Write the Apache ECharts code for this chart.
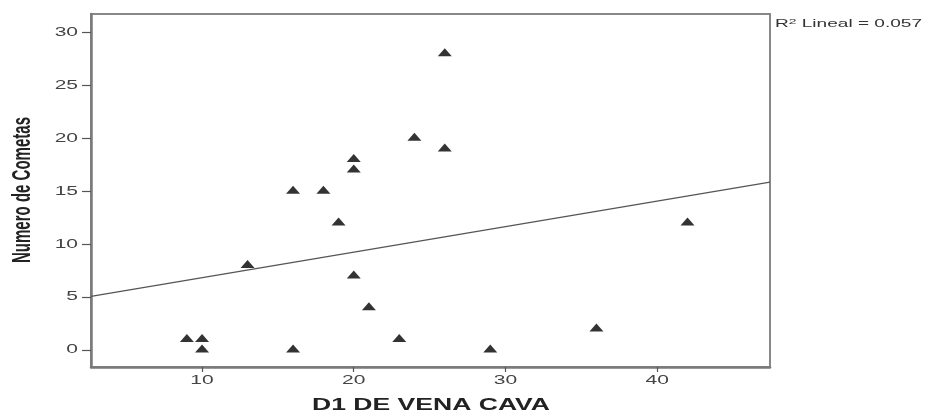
<!DOCTYPE html>
<html><head><meta charset="utf-8">
<script src="https://cdn.jsdelivr.net/npm/echarts@6/dist/echarts.min.js"></script>
<style>html,body{margin:0;padding:0;background:#fff}#c{width:928px;height:415px}</style>
</head><body><div id="c"></div>
<script>
var xValues = [9, 10, 10, 13, 16, 16, 18, 19, 20, 20, 20, 21, 23, 24, 26, 26, 29, 36, 42];
var yValues = [1, 1, 0, 8, 15, 0, 15, 12, 18, 17, 7, 4, 1, 20, 28, 19, 0, 2, 12];
var xTicks = [10, 20, 30, 40];
var yTicks = [0, 5, 10, 15, 20, 25, 30];
var xName = 'D1 DE VENA CAVA';
var yName = 'Numero de Cometas';
var r2Label = 'Lineal = 0.057';

var xMin = 2.68, xMax = 47.44, yMin = -1.6, yMax = 31.75;

// least squares fit line
var n = xValues.length, mx = 0, my = 0;
for (var i = 0; i < n; i++) { mx += xValues[i]; my += yValues[i]; }
mx /= n; my /= n;
var sxy = 0, sxx = 0;
for (var i = 0; i < n; i++) { sxy += (xValues[i]-mx)*(yValues[i]-my); sxx += (xValues[i]-mx)*(xValues[i]-mx); }
var slope = sxy / sxx, icpt = my - slope * mx;
var fitLine = [[xMin, icpt + slope * xMin], [xMax, icpt + slope * xMax]];

var pts = xValues.map(function (x, i) { return [x, yValues[i]]; });

var FF = '"Liberation Sans", Arial, sans-serif';
var mctx = document.createElement('canvas').getContext('2d');
function textW(txt, font) { mctx.font = font; return mctx.measureText(txt).width; }

var chart = echarts.init(document.getElementById('c'));
chart.setOption({
  animation: false,
  backgroundColor: '#fff',
  grid: { left: 91, right: 158, top: 14, bottom: 48, outerBoundsMode: 'none', containLabel: false,
          show: true, borderColor: '#888', borderWidth: 2, backgroundColor: '#fff' },
  xAxis: {
    type: 'value', min: xMin, max: xMax,
    splitLine: { show: false },
    axisLine: { show: true, onZero: false, lineStyle: { color: '#7a7a7a', width: 2.5 } },
    axisTick: { show: true, inside: false, length: 5, lineStyle: { color: '#555', width: 1.2 }, customValues: xTicks },
    axisLabel: { show: false }
  },
  yAxis: {
    type: 'value', min: yMin, max: yMax,
    splitLine: { show: false },
    axisLine: { show: true, onZero: false, lineStyle: { color: '#7a7a7a', width: 2.5 } },
    axisTick: { show: true, inside: false, length: 9, lineStyle: { color: '#555', width: 1.2 }, customValues: yTicks },
    axisLabel: { show: false }
  },
  series: [
    {
      type: 'line', data: fitLine, symbol: 'none', silent: true,
      lineStyle: { color: '#555', width: 1.2 }
    },
    {
      type: 'scatter', data: pts, symbol: 'triangle', symbolSize: [14, 8], symbolOffset: [0, -1.5],
      itemStyle: { color: '#000' }
    }
  ]
});

// stretched text (the reference is horizontally stretched)
var TS = 1.75;
var g = [];
xTicks.forEach(function (v) {
  var px = chart.convertToPixel({ xAxisIndex: 0 }, v);
  g.push({ type: 'text', x: px, y: 381, scaleX: TS, silent: true,
    style: { text: String(v), font: '12px ' + FF, fill: '#444', align: 'center', verticalAlign: 'middle' } });
});
yTicks.forEach(function (v) {
  var py = chart.convertToPixel({ yAxisIndex: 0 }, v);
  g.push({ type: 'text', x: 78, y: py, scaleX: TS, silent: true,
    style: { text: String(v), font: '12px ' + FF, fill: '#444', align: 'right', verticalAlign: 'middle' } });
});
var xnFont = 'bold 17px ' + FF;
g.push({ type: 'text', x: 431, y: 405, scaleX: 238 / textW(xName, xnFont), silent: true,
  style: { text: xName, font: xnFont, fill: '#222', align: 'center', verticalAlign: 'middle' } });
var ynFont = 'bold 16px ' + FF;
g.push({ type: 'text', x: 22.5, y: 190, rotation: Math.PI / 2, scaleX: 146 / textW(yName, ynFont), scaleY: 1.65, silent: true,
  style: { text: yName, font: ynFont, fill: '#222', align: 'center', verticalAlign: 'middle' } });
var r2w = textW('R', '11px ' + FF) + textW('2', '8px ' + FF) + textW(' ' + r2Label, '11px ' + FF);
g.push({ type: 'text', x: 775, y: 24, scaleX: 147 / r2w, silent: true,
  style: { text: '{r|R}{s|2}{r| ' + r2Label + '}', align: 'left', verticalAlign: 'middle',
    rich: {
      r: { font: '11px ' + FF, fill: '#333' },
      s: { font: '8px ' + FF, fill: '#333', verticalAlign: 'top', padding: [0, 0, 5, 0] }
    } } });
chart.setOption({ graphic: g });
</script>
</body></html>
